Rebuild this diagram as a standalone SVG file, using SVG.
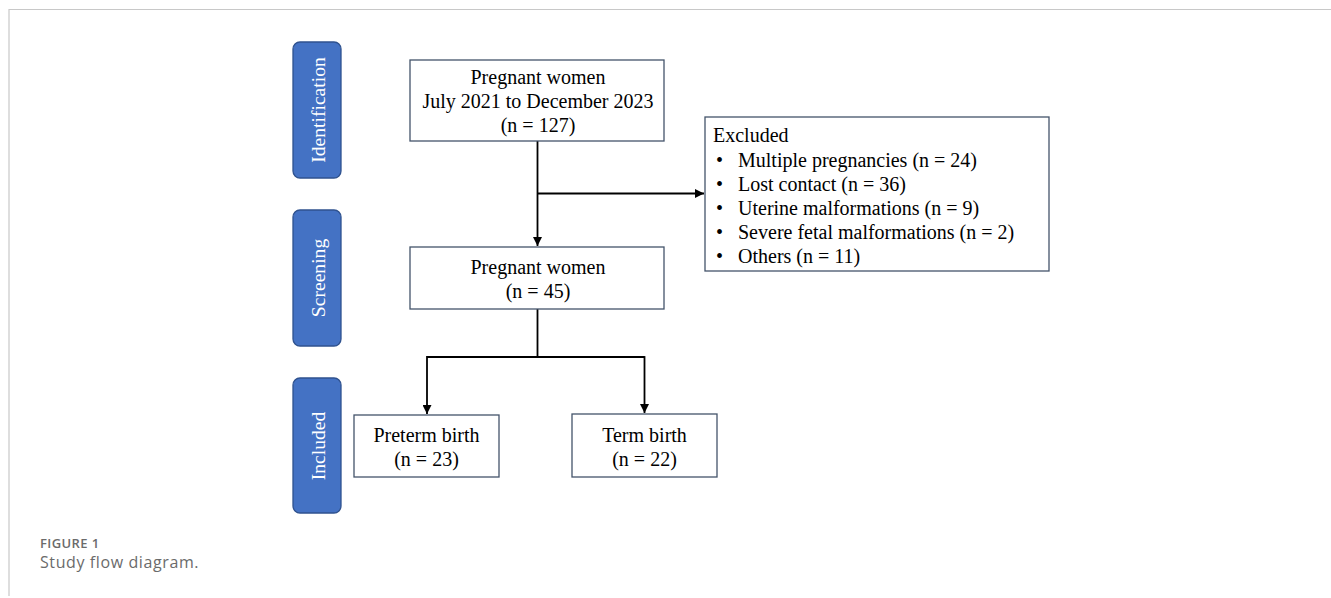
<svg xmlns="http://www.w3.org/2000/svg" width="1331" height="598" viewBox="0 0 1331 598">
<style>
.frame{stroke:#c8c8c8;stroke-width:1.2;fill:none}
.side{fill:#4472C4;stroke:#2F528F;stroke-width:1.3}
.sidet{font-family:"Liberation Serif",serif;font-size:19.6px;fill:#ffffff;text-anchor:middle}
.box{fill:#ffffff;stroke:#44546A;stroke-width:1.3}
.t{font-family:"Liberation Serif",serif;font-size:20px;fill:#000000}
.c{text-anchor:middle}
.con{stroke:#000000;stroke-width:1.8;fill:none}
.cap1{font-family:"Open Sans",sans-serif;font-size:13px;font-weight:600;fill:#6b6b6b;letter-spacing:0.4px}
.cap2{font-family:"Open Sans",sans-serif;font-size:16px;fill:#6b6b6b;letter-spacing:0.6px}
</style>
<defs>
<marker id="arr" viewBox="0 0 10 10" refX="10" refY="5" markerWidth="5" markerHeight="5" orient="auto" markerUnits="strokeWidth">
<path d="M0,0 L10,5 L0,10 z" fill="#000000"/>
</marker>
</defs>
<rect width="1331" height="598" fill="#ffffff"/>
<path class="frame" d="M9,596 L9,9.5 L1331,9.5"/>

<g id="side-identification">
<rect class="side" x="293" y="42" width="48" height="136" rx="7"/>
<text class="sidet" transform="translate(324.5,110) rotate(-90)">Identification</text>
</g>
<g id="side-screening">
<rect class="side" x="293" y="210" width="48" height="136" rx="7"/>
<text class="sidet" transform="translate(324.5,278) rotate(-90)">Screening</text>
</g>
<g id="side-included">
<rect class="side" x="293" y="378" width="48" height="135" rx="7"/>
<text class="sidet" transform="translate(324.5,446) rotate(-90)">Included</text>
</g>

<g id="connectors">
<path class="con" d="M537.5,141 L537.5,246" marker-end="url(#arr)"/>
<path class="con" d="M537.5,193.5 L704,193.5" marker-end="url(#arr)"/>
<path class="con" d="M537.5,309 L537.5,357 M427,357 L644.5,357"/>
<path class="con" d="M427,356.1 L427,414" marker-end="url(#arr)"/>
<path class="con" d="M644.5,356.1 L644.5,413" marker-end="url(#arr)"/>
</g>

<g id="node-identified">
<rect class="box" x="410" y="60" width="254" height="81"/>
<text class="t c" x="538" y="84">Pregnant women</text>
<text class="t c" x="538" y="108">July 2021 to December 2023</text>
<text class="t c" x="538" y="132">(n = 127)</text>
</g>

<g id="node-excluded">
<rect class="box" x="705" y="117" width="344" height="154"/>
<text class="t" x="713" y="142">Excluded</text>
<text class="t" x="716" y="167">•</text><text class="t" x="738" y="167">Multiple pregnancies (n = 24)</text>
<text class="t" x="716" y="191">•</text><text class="t" x="738" y="191">Lost contact (n = 36)</text>
<text class="t" x="716" y="215">•</text><text class="t" x="738" y="215">Uterine malformations (n = 9)</text>
<text class="t" x="716" y="239">•</text><text class="t" x="738" y="239">Severe fetal malformations (n = 2)</text>
<text class="t" x="716" y="263">•</text><text class="t" x="738" y="263">Others (n = 11)</text>
</g>

<g id="node-screened">
<rect class="box" x="410" y="247" width="254" height="62"/>
<text class="t c" x="538" y="274">Pregnant women</text>
<text class="t c" x="538" y="298">(n = 45)</text>
</g>

<g id="node-preterm">
<rect class="box" x="354" y="415" width="145" height="62"/>
<text class="t c" x="426.5" y="442">Preterm birth</text>
<text class="t c" x="426.5" y="466">(n = 23)</text>
</g>

<g id="node-term">
<rect class="box" x="572" y="414" width="145" height="63"/>
<text class="t c" x="644.5" y="442">Term birth</text>
<text class="t c" x="644.5" y="466">(n = 22)</text>
</g>

<g id="caption">
<text class="cap1" x="40" y="547.5">FIGURE 1</text>
<text class="cap2" x="40" y="568">Study flow diagram.</text>
</g>
</svg>
